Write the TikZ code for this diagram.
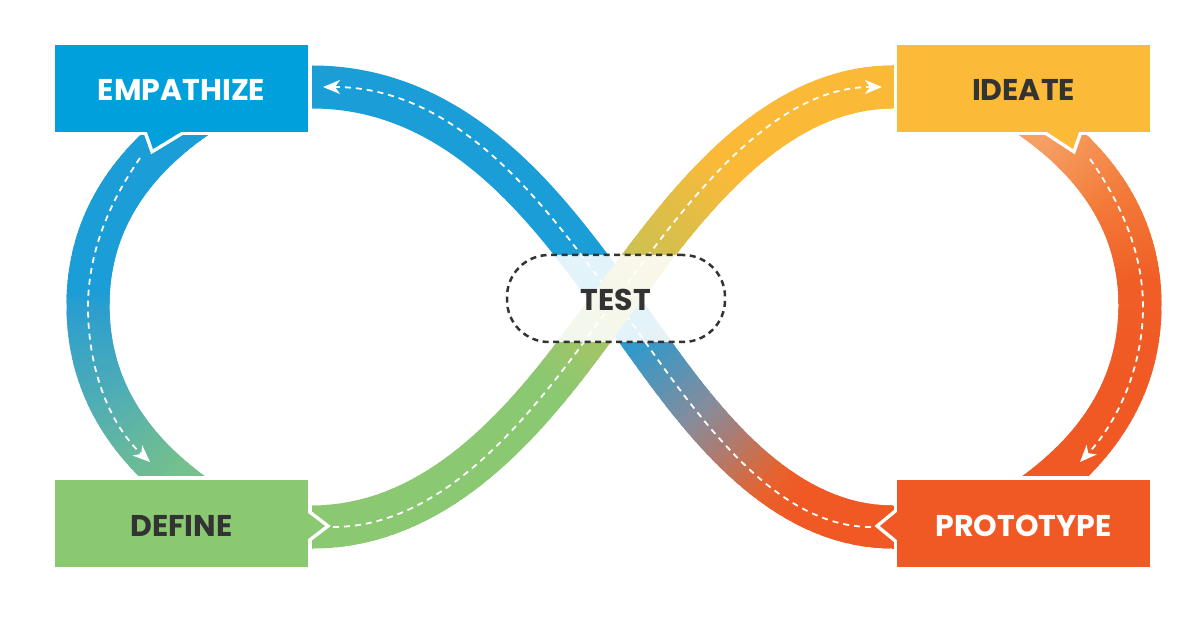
\documentclass[tikz,border=0pt]{standalone}
\usepackage{fontspec}
\usetikzlibrary{arrows.meta}
\newfontfamily\labfont{Poppins}

\definecolor{boxblue}{RGB}{0,160,220}
\definecolor{boxgreen}{RGB}{138,201,114}
\definecolor{boxyellow}{RGB}{252,186,57}
\definecolor{boxred}{RGB}{240,88,36}
\definecolor{bandblue}{RGB}{27,157,215}
\definecolor{bandgreen}{RGB}{138,200,114}
\definecolor{bandyellow}{RGB}{251,185,56}
\definecolor{bandred}{RGB}{240,88,36}
\definecolor{txtdark}{RGB}{51,51,51}

% curve control points
\newcommand\setcurve[8]{\def\PXa{#1}\def\PYa{#2}\def\PXb{#3}\def\PYb{#4}\def\PXc{#5}\def\PYc{#6}\def\PXd{#7}\def\PYd{#8}}
\newcommand\usexvar{\def\Qa{\PXa}\def\Qb{\PXb}\def\Qc{\PXc}\def\Qd{\PXd}}
\newcommand\useyvar{\def\Qa{\PYa}\def\Qb{\PYb}\def\Qc{\PYc}\def\Qd{\PYd}}
\newcommand\setstops[4]{\def\StA{#1}\def\StB{#2}\def\StC{#3}\def\StD{#4}}
% draw a gradient band along the current curve in #1 pieces
\newcommand\gradband[1]{%
  \foreach \i in {1,...,#1}{%
    \pgfmathsetmacro\myta{(\i-1)/#1}%
    \pgfmathsetmacro\mytb{min(1,(\i+0.8)/#1)}%
    \pgfmathsetmacro\mytm{(\i-0.5)/#1}%
    \pgfmathsetmacro\mysv{(1-\mytm)^3*\Qa+3*(1-\mytm)^2*\mytm*\Qb+3*(1-\mytm)*\mytm^2*\Qc+\mytm^3*\Qd}%
    \pgfmathsetmacro\myua{100*max(0,min(1,(\mysv-\StA)/(\StB-\StA)))}%
    \pgfmathsetmacro\myub{100*max(0,min(1,(\mysv-\StB)/(\StC-\StB)))}%
    \pgfmathsetmacro\myuc{100*max(0,min(1,(\mysv-\StC)/(\StD-\StC)))}%
    \ifdim\mysv pt<\StB pt\colorlet{segc}{gB!\myua!gA}\else
      \ifdim\mysv pt<\StC pt\colorlet{segc}{gC!\myub!gB}\else
        \colorlet{segc}{gD!\myuc!gC}\fi\fi
    \begin{pgfscope}
      \pgfsetlinewidth{43pt}\pgfsetbuttcap
      \pgfsetstrokecolor{segc}
      \pgfpathcurvebetweentime{\myta}{\mytb}{\pgfpointxy{\PXa}{\PYa}}{\pgfpointxy{\PXb}{\PYb}}{\pgfpointxy{\PXc}{\PYc}}{\pgfpointxy{\PXd}{\PYd}}%
      \pgfusepath{stroke}%
    \end{pgfscope}%
  }%
}

\tikzset{
  stagebox/.style={rectangle, minimum width=253pt, minimum height=87pt, inner sep=0pt,
    font=\labfont\bfseries\fontsize{30pt}{30pt}\selectfont, text height=25pt, text depth=0pt},
  gapline/.style={draw=white, line width=7pt, line join=miter},
  dashline/.style={white, line width=1.8pt, dash pattern=on 6pt off 5pt, line cap=butt},
  wtip/.style={-{Stealth[length=17pt,width=14pt,inset=5pt]}},
  straightband/.style={line width=43pt, line cap=butt},
}

\begin{document}
\begin{tikzpicture}[x=1pt,y=-1pt]
\useasboundingbox[fill=white] (0,0) rectangle (1200,617);

% ---------- left loop (Empathize -> Define)
\definecolor{gA}{RGB}{27,157,215}\definecolor{gB}{RGB}{45,158,205}
\definecolor{gC}{RGB}{80,174,180}\definecolor{gD}{RGB}{118,192,140}
\setstops{290}{312}{400}{480}
\setcurve{218}{103}{115}{165}{88}{240}{88}{305}\useyvar\gradband{40}
\setcurve{88}{305}{88}{372}{115}{447}{218}{511}\useyvar\gradband{40}

% ---------- right loop (Ideate -> Prototype)
\definecolor{gA}{RGB}{246,160,100}\definecolor{gB}{RGB}{243,122,56}
\definecolor{gC}{RGB}{240,94,38}\definecolor{gD}{RGB}{240,88,36}
\setstops{130}{200}{280}{400}
\setcurve{1009}{103}{1112}{165}{1140}{240}{1140}{305}\useyvar\gradband{40}
\setcurve{1140}{305}{1140}{372}{1112}{447}{1009}{511}\useyvar\gradband{40}

% ---------- blue band (Prototype -> Empathize)
\draw[straightband, bandblue] (290,87) -- (312,87) .. controls (465,87) and (555,220) .. (615,300);
\definecolor{gA}{RGB}{27,157,215}\definecolor{gB}{RGB}{135,140,155}
\definecolor{gC}{RGB}{232,98,45}\definecolor{gD}{RGB}{240,88,36}
\setstops{630}{700}{770}{800}
\setcurve{615}{300}{675}{380}{760}{527}{893}{527}\usexvar\gradband{40}
\draw[straightband, bandred] (892,527) -- (915,527);
\draw[dashline, wtip, shorten <=22pt, shorten >=11pt]
  (893,527) .. controls (760,527) and (675,380) .. (615,300)
  .. controls (555,220) and (465,87) .. (312,87);

% ---------- green band (Define -> Ideate)
\draw[straightband, bandgreen] (290,527) -- (313,527);
\definecolor{gA}{RGB}{138,200,114}\definecolor{gB}{RGB}{172,196,98}
\definecolor{gC}{RGB}{212,192,78}\definecolor{gD}{RGB}{251,185,56}
\setstops{550}{600}{655}{725}
\setcurve{312}{527}{460}{527}{555}{380}{615}{300}\usexvar\gradband{40}
\setcurve{615}{300}{675}{220}{765}{87}{893}{87}\usexvar\gradband{40}
\draw[straightband, bandyellow] (892,87) -- (915,87);
\draw[dashline, wtip, shorten <=21pt, shorten >=11pt]
  (312,527) .. controls (460,527) and (555,380) .. (615,300)
  .. controls (675,220) and (765,87) .. (893,87);

% ---------- loop dashes
\draw[dashline, wtip] (140,158) .. controls (104,210) and (88,260) .. (88,307)
  .. controls (88,370) and (110,425) .. (150,462);
\draw[dashline, wtip] (1090,159) .. controls (1126,210) and (1143,260) .. (1143,307)
  .. controls (1143,370) and (1115,425) .. (1080,462);

% ---------- white gaps round the boxes
\path[gapline] (55,45) rectangle (308,132);
\path[gapline] (147,132) -- (153,149) -- (181,132);
\path[gapline] (55,480) rectangle (308,567);
\path[gapline] (308,513) -- (325,526) -- (308,539);
\path[gapline] (897,45) rectangle (1150,132);
\path[gapline] (1047,132) -- (1073,149) -- (1079,132);
\path[gapline] (897,480) rectangle (1150,567);
\path[gapline] (897,512) -- (880,526) -- (897,540);

% ---------- boxes
\node[stagebox, fill=boxblue, text=white] (emp) at (181.5,88.5) {EMPATHIZE};
\node[stagebox, fill=boxgreen, text=txtdark] (def) at (181.5,523.5) {DEFINE};
\node[stagebox, fill=boxyellow, text=txtdark] (ide) at (1023.5,88.5) {IDEATE};
\node[stagebox, fill=boxred, text=white] (pro) at (1023.5,523.5) {PROTOTYPE};

% ---------- pointers
\fill[boxblue] (147,128) -- (147,132) -- (153,149) -- (181,132) -- (181,128) -- cycle;
\fill[boxgreen] (304,513) -- (308,513) -- (325,526) -- (308,539) -- (304,539) -- cycle;
\fill[boxyellow] (1047,128) -- (1047,132) -- (1073,149) -- (1079,132) -- (1079,128) -- cycle;
\fill[boxred] (901,512) -- (897,512) -- (880,526) -- (897,540) -- (901,540) -- cycle;

% ---------- test
\node[draw=txtdark, line width=2.5pt, dash pattern=on 6pt off 4.5pt,
  fill=white, fill opacity=0.88, text opacity=1,
  rounded corners=42pt, minimum width=218pt, minimum height=87pt, inner sep=0pt,
  font=\labfont\bfseries\fontsize{30pt}{30pt}\selectfont, text height=25pt, text depth=0pt,
  text=txtdark] (test) at (616,298.5) {TEST};
\end{tikzpicture}
\end{document}
